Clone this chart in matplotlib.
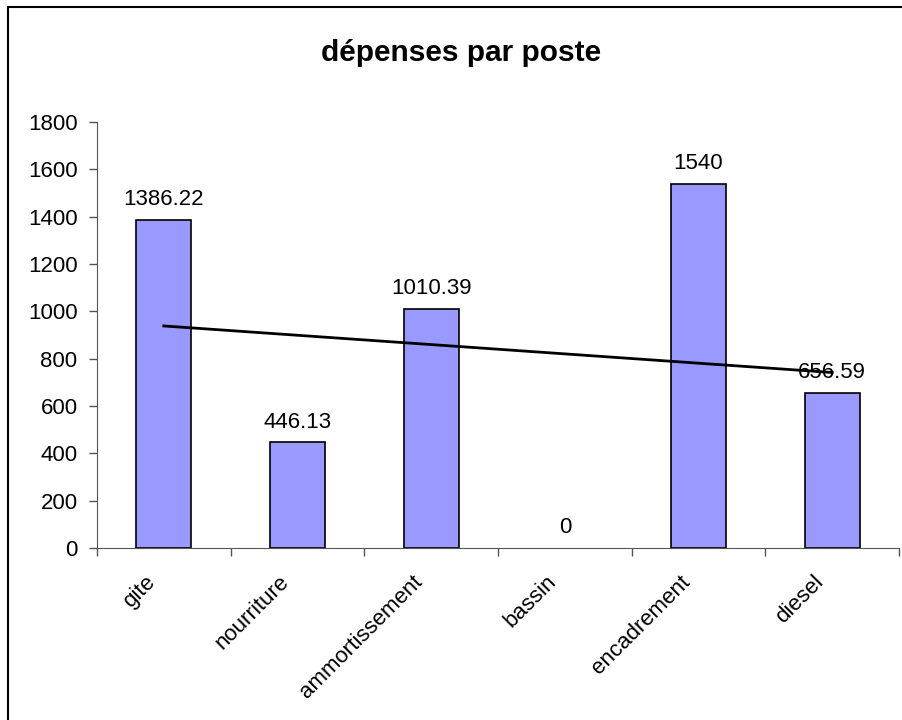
import matplotlib
matplotlib.use('Agg')
import matplotlib.pyplot as plt
import matplotlib.transforms as mtransforms
import numpy as np
from matplotlib.patches import Rectangle

plt.rcParams['font.family'] = ['Liberation Sans', 'DejaVu Sans']

# données
postes = ['gite', 'nourriture', 'ammortissement', 'bassin', 'encadrement', 'diesel']
depenses = [1386.22, 446.13, 1010.39, 0, 1540, 656.59]
etiquettes = ['1386.22', '446.13', '1010.39', '0', '1540', '656.59']
y_ticks = [0, 200, 400, 600, 800, 1000, 1200, 1400, 1600, 1800]

fig = plt.figure(figsize=(9.03, 7.2), dpi=100)

# cadre du graphique (coupé à droite et en bas comme dans Excel)
fig.patches.append(Rectangle((8 / 903, -0.1), 1.2, 1 - 7 / 720 + 0.1,
                             transform=fig.transFigure, fill=False,
                             edgecolor='black', linewidth=1.5))

ax = fig.add_axes([97 / 903, 1 - 548 / 720, (899 - 97) / 903, (548 - 122) / 720])

x = np.arange(len(postes))
barres = ax.bar(x, depenses, width=0.41, color='#9999FF', edgecolor='black', linewidth=1.2, zorder=2)
for b, v in zip(barres, depenses):
    if v == 0:
        b.set_edgecolor('none')

# étiquettes de données
for xi, v, s in zip(x, depenses, etiquettes):
    ax.annotate(s, xy=(xi, v), xytext=(0, 7), textcoords='offset points',
                ha='center', va='bottom', fontsize=16, zorder=4)

# courbe de tendance linéaire
a, b = np.polyfit(x, depenses, 1)
ax.plot(x, a * x + b, color='black', linewidth=2, zorder=3)

ax.set_xlim(-0.5, len(postes) - 0.5)
ax.set_ylim(0, 1800)
ax.set_yticks(y_ticks)
ax.tick_params(axis='y', labelsize=16, direction='out', length=6, width=1, colors='#555555',
               labelcolor='black', pad=8)

ax.set_xticks(x)
ax.set_xticklabels(postes, rotation=45, ha='right', va='top', rotation_mode='anchor', fontsize=16)
ax.tick_params(axis='x', which='major', length=0, pad=14)
ax.set_xticks(np.arange(-0.5, len(postes)), minor=True)
ax.tick_params(axis='x', which='minor', direction='out', length=6, width=1, colors='#555555')
decal = mtransforms.ScaledTranslation(-19 / 100, -4 / 100, fig.dpi_scale_trans)
for lab in ax.get_xticklabels():
    lab.set_transform(lab.get_transform() + decal)

ax.spines['top'].set_visible(False)
ax.spines['right'].set_visible(False)
ax.spines['left'].set_color('#555555')
ax.spines['bottom'].set_color('#555555')

fig.text(461 / 903, 1 - 53 / 720, 'dépenses par poste', ha='center', va='center',
         fontsize=21.5, fontweight='bold')

plt.savefig('out.png', dpi=100)
